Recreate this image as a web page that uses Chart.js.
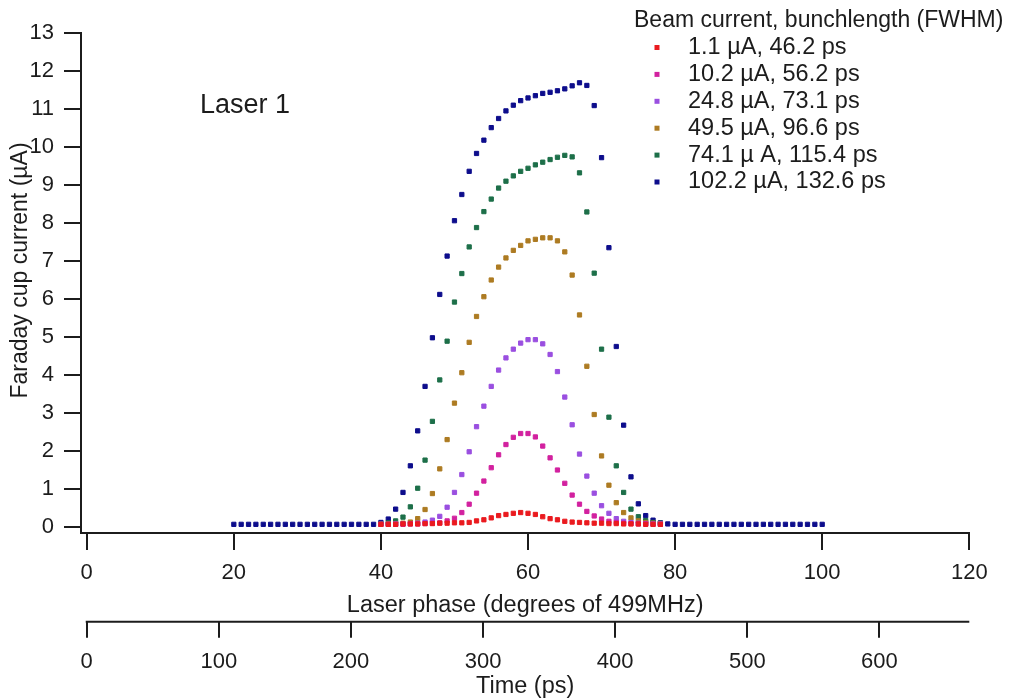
<!DOCTYPE html>
<html lang="en">
<head>
  <meta charset="UTF-8">
  <title>Faraday cup current vs laser phase</title>
  <script src="https://cdn.jsdelivr.net/npm/chart.js"></script>
  <style>
    body {
      margin: 0;
      background: #fff;
    }
    .chart-box {
      width: 1017px;
      height: 698px;
    }
  </style>
</head>
<body>
  <div class="chart-box">
    <canvas id="faradayChart" width="1017" height="698"></canvas>
  </div>

  <script>
    // laser phase in degrees of 499 MHz
    const phaseWide = [20, 21, 22, 23, 24, 25, 26, 27, 28, 29, 30, 31, 32, 33, 34, 35, 36, 37, 38, 39,
      40, 41, 42, 43, 44, 45, 46, 47, 48, 49, 50, 51, 52, 53, 54, 55, 56, 57, 58, 59,
      60, 61, 62, 63, 64, 65, 66, 67, 68, 69, 70, 71, 72, 73, 74, 75, 76, 77, 78, 79,
      80, 81, 82, 83, 84, 85, 86, 87, 88, 89, 90, 91, 92, 93, 94, 95, 96, 97, 98, 99, 100];
    const phaseNarrow = [40, 41, 42, 43, 44, 45, 46, 47, 48, 49, 50, 51, 52, 53, 54, 55, 56, 57, 58, 59,
      60, 61, 62, 63, 64, 65, 66, 67, 68, 69, 70, 71, 72, 73, 74, 75, 76, 77, 78];

    // Faraday cup current (uA)
    const cur1p1 = [0.07, 0.07, 0.07, 0.08, 0.08, 0.08, 0.09, 0.09, 0.10, 0.10,
      0.11, 0.11, 0.12, 0.16, 0.19, 0.24, 0.30, 0.33, 0.36, 0.38,
      0.36, 0.33, 0.27, 0.22, 0.19, 0.15, 0.13, 0.12, 0.11, 0.10,
      0.10, 0.09, 0.09, 0.08, 0.08, 0.08, 0.07, 0.07, 0.07];
    const cur10p2 = [0.07, 0.07, 0.07, 0.07, 0.08, 0.08, 0.09, 0.10, 0.11, 0.16,
      0.23, 0.38, 0.60, 0.89, 1.21, 1.56, 1.90, 2.17, 2.36, 2.46,
      2.46, 2.37, 2.13, 1.82, 1.50, 1.15, 0.84, 0.60, 0.41, 0.29,
      0.21, 0.15, 0.12, 0.10, 0.09, 0.08, 0.08, 0.07, 0.07];
    const cur24p8 = [0.07, 0.07, 0.08, 0.08, 0.09, 0.10, 0.13, 0.18, 0.28, 0.52,
      0.91, 1.38, 1.98, 2.64, 3.18, 3.70, 4.13, 4.45, 4.68, 4.84,
      4.93, 4.93, 4.82, 4.54, 4.09, 3.42, 2.69, 1.92, 1.34, 0.89,
      0.56, 0.36, 0.22, 0.15, 0.12, 0.10, 0.09, 0.08, 0.08];
    const cur49p5 = [0.07, 0.08, 0.09, 0.10, 0.13, 0.22, 0.46, 0.88, 1.53, 2.30,
      3.26, 4.06, 4.86, 5.54, 6.06, 6.50, 6.84, 7.08, 7.28, 7.41,
      7.53, 7.57, 7.61, 7.61, 7.53, 7.24, 6.63, 5.58, 4.23, 2.96,
      1.87, 1.10, 0.64, 0.38, 0.24, 0.16, 0.12, 0.10, 0.09];
    const cur74p1 = [0.08, 0.11, 0.16, 0.26, 0.53, 1.02, 1.76, 2.78, 3.87, 4.89,
      5.92, 6.67, 7.37, 7.88, 8.30, 8.63, 8.92, 9.10, 9.24, 9.36,
      9.44, 9.53, 9.60, 9.67, 9.73, 9.78, 9.74, 9.32, 8.29, 6.68,
      4.68, 2.89, 1.61, 0.91, 0.47, 0.27, 0.17, 0.12, 0.10];
    const cur102p2 = [0.07, 0.07, 0.07, 0.07, 0.07, 0.07, 0.07, 0.07, 0.07, 0.07,
      0.07, 0.07, 0.07, 0.07, 0.07, 0.07, 0.07, 0.07, 0.07, 0.07,
      0.12, 0.21, 0.47, 0.91, 1.61, 2.53, 3.70, 4.98, 6.12, 7.13,
      8.06, 8.75, 9.36, 9.83, 10.18, 10.51, 10.75, 10.95, 11.10, 11.22,
      11.29, 11.35, 11.41, 11.44, 11.48, 11.53, 11.61, 11.69, 11.62, 11.09,
      9.72, 7.35, 4.75, 2.68, 1.32, 0.61, 0.30, 0.18, 0.11, 0.08,
      0.07, 0.07, 0.07, 0.07, 0.07, 0.07, 0.07, 0.07, 0.07, 0.07,
      0.07, 0.07, 0.07, 0.07, 0.07, 0.07, 0.07, 0.07, 0.07, 0.07, 0.07];

    const seriesLabels = ['1.1 \u00b5A, 46.2 ps', '10.2 \u00b5A, 56.2 ps', '24.8 \u00b5A, 73.1 ps',
      '49.5 \u00b5A, 96.6 ps', '74.1 \u00b5 A, 115.4 ps', '102.2 \u00b5A, 132.6 ps'];
    const seriesColors = ['#ea1a1f', '#d2219f', '#9a4fe0', '#ad7b22', '#1d6f49', '#0d0d8c'];

    const yTicks = [0, 1, 2, 3, 4, 5, 6, 7, 8, 9, 10, 11, 12, 13];
    const degTicks = [0, 20, 40, 60, 80, 100, 120];
    const psTicks = [0, 100, 200, 300, 400, 500, 600];

    const PS_PER_DEG = 1e12 / (499e6 * 360);
    const DEG_MIN = -0.78;   // axes are offset a little from the origin
    const DEG_MAX = 120;
    const INK = '#1c1c1c';
    const FONT = '"Liberation Sans", Arial, sans-serif';

    Chart.defaults.font.family = FONT;
    Chart.defaults.color = INK;

    function toPoints(xs, ys) {
      return xs.map((x, i) => ({ x: x, y: ys[i] }));
    }

    const seriesValues = [cur1p1, cur10p2, cur24p8, cur49p5, cur74p1, cur102p2];
    const seriesPhase = [phaseNarrow, phaseNarrow, phaseNarrow, phaseNarrow, phaseNarrow, phaseWide];

    const datasets = seriesValues.map((vals, i) => ({
      label: seriesLabels[i],
      data: toPoints(seriesPhase[i], vals),
      backgroundColor: seriesColors[i],
      borderColor: seriesColors[i],
      pointStyle: 'rect',
      pointRadius: 3,
      pointBorderWidth: 1,
      showLine: false
    }));

    const axisGrid = {
      drawOnChartArea: false,
      drawTicks: true,
      tickLength: 17,
      tickColor: INK,
      tickWidth: 2,
      color: INK,
      lineWidth: 2
    };

    // legend, labels and the lower time axis line
    const extras = {
      id: 'extras',
      afterDraw(chart) {
        const ctx = chart.ctx;
        const y = chart.scales.y;
        ctx.save();

        const t = chart.scales.x2;
        ctx.strokeStyle = INK;
        ctx.lineWidth = 2;
        ctx.beginPath();
        ctx.moveTo(t.getPixelForValue(0) - 1, t.top + 1);
        ctx.lineTo(t.right, t.top + 1);
        ctx.stroke();

        ctx.fillStyle = INK;
        ctx.textBaseline = 'middle';
        ctx.textAlign = 'center';
        ctx.font = '23px ' + FONT;
        ctx.save();
        ctx.translate(21, y.getPixelForValue(6.75));
        ctx.rotate(-Math.PI / 2);
        ctx.fillText('Faraday cup current (\u00b5A)', 0, 0);
        ctx.restore();

        ctx.textAlign = 'left';
        ctx.font = '27px ' + FONT;
        ctx.fillText('Laser 1', chart.scales.x.getPixelForValue(15.4), y.getPixelForValue(11.1));

        ctx.font = '23px ' + FONT;
        ctx.fillText('Beam current, bunchlength (FWHM)', 634, 21);
        ctx.font = '23.5px ' + FONT;
        seriesLabels.forEach((lab, i) => {
          const yy = 47.5 + 26.9 * i;
          ctx.fillStyle = seriesColors[i];
          ctx.fillRect(654.5, yy - 2.5, 5, 5);
          ctx.fillStyle = INK;
          ctx.fillText(lab, 688, yy);
        });
        ctx.restore();
      }
    };

    new Chart(document.getElementById('faradayChart'), {
      type: 'scatter',
      data: { datasets: datasets },
      plugins: [extras],
      options: {
        responsive: false,
        animation: false,
        layout: { padding: { top: 33, right: 47.7, bottom: 0, left: 0 } },
        plugins: {
          legend: { display: false },
          tooltip: { enabled: false }
        },
        scales: {
          x: {
            type: 'linear',
            position: 'bottom',
            weight: 0,
            min: DEG_MIN,
            max: DEG_MAX,
            afterBuildTicks: s => { s.ticks = degTicks.map(v => ({ value: v })); },
            afterFit: s => { s.height = 87.7; },
            border: { display: true, color: INK, width: 2 },
            grid: axisGrid,
            ticks: { color: INK, font: { size: 22 }, padding: 10, maxRotation: 0 },
            title: {
              display: true,
              text: 'Laser phase (degrees of 499MHz)',
              color: INK,
              font: { size: 23.5 },
              padding: { top: 0, bottom: 1.5 }
            }
          },
          x2: {
            type: 'linear',
            position: 'bottom',
            weight: 1,
            min: DEG_MIN * PS_PER_DEG,
            max: DEG_MAX * PS_PER_DEG,
            afterBuildTicks: s => { s.ticks = psTicks.map(v => ({ value: v })); },
            afterFit: s => { s.height = 77.3; },
            border: { display: false },
            grid: axisGrid,
            ticks: { color: INK, font: { size: 22 }, padding: 11, maxRotation: 0 },
            title: {
              display: true,
              text: 'Time (ps)',
              color: INK,
              font: { size: 23.5, lineHeight: 1.0 },
              padding: { top: 0, bottom: 0 }
            }
          },
          y: {
            type: 'linear',
            position: 'left',
            min: -0.158,
            max: 13,
            afterBuildTicks: s => { s.ticks = yTicks.map(v => ({ value: v })); },
            afterFit: s => { s.width = 81; },
            border: { display: true, color: INK, width: 2 },
            grid: axisGrid,
            ticks: { color: INK, font: { size: 22 }, padding: 10 }
          }
        }
      }
    });
  </script>
</body>
</html>
